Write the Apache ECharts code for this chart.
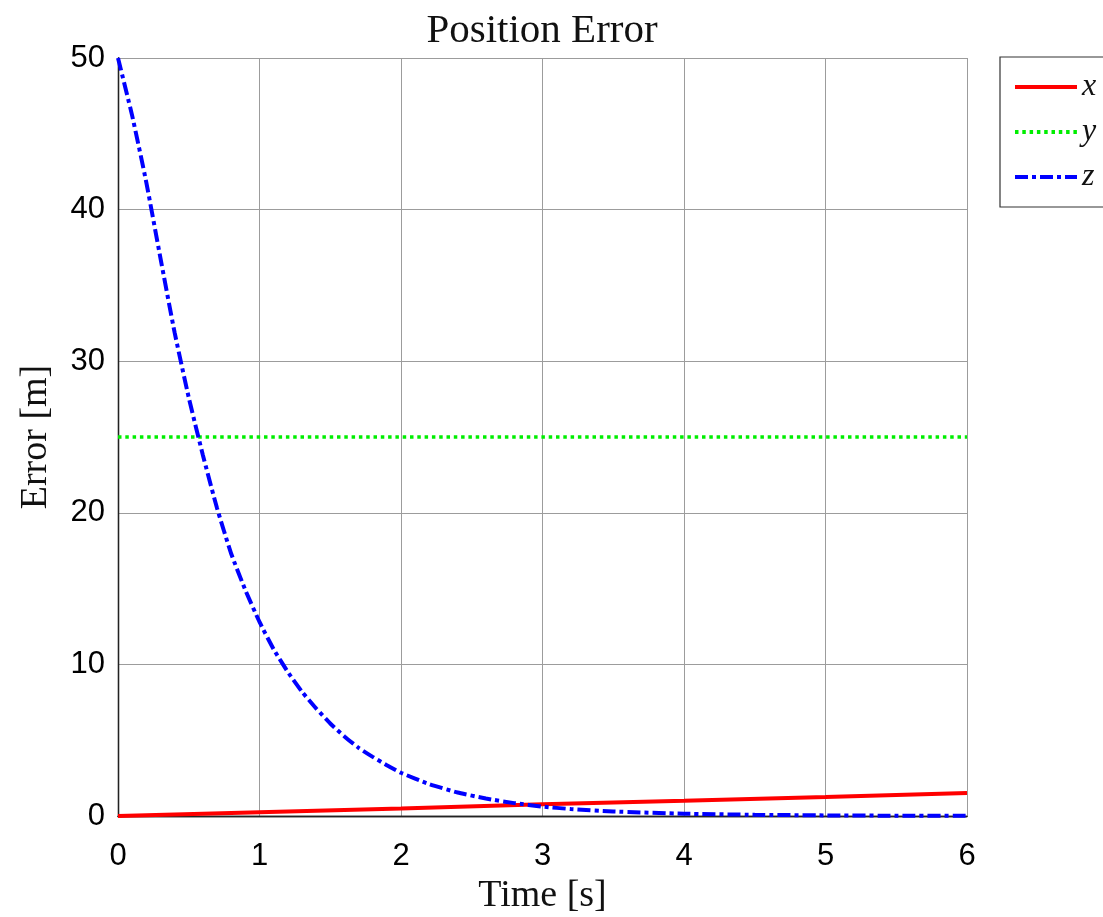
<!DOCTYPE html>
<html>
<head>
<meta charset="utf-8">
<title>Position Error</title>
<script src="https://cdn.jsdelivr.net/npm/echarts@6/dist/echarts.min.js"></script>
<style>
  html, body { margin: 0; padding: 0; background: #fff; }
  #chart { width: 1103px; height: 917px; }
</style>
</head>
<body>
<div id="chart"></div>
<script>
// Time samples [s] and error components [m]
const timeX = [0, 1, 2, 3, 4, 5, 6];
const errX = [0, 0.25, 0.5, 0.77, 1.0, 1.25, 1.52];

const timeY = [0, 6];
const errY = [25, 25];

const timeZ = [0, 0.1, 0.2, 0.3, 0.4, 0.5, 0.6, 0.7, 0.8, 0.9, 1.0, 1.1, 1.2, 1.3, 1.4, 1.5,
  1.6, 1.7, 1.8, 1.9, 2.0, 2.2, 2.4, 2.6, 2.8, 3.0, 3.2, 3.5, 4.0, 4.5, 5.0, 5.5, 6.0];
const errZ = [50, 46.2, 41.8, 36.8, 31.9, 27.6, 23.8, 20.3, 17.3, 14.9, 12.8, 11.0, 9.5, 8.2, 7.1, 6.1,
  5.25, 4.5, 3.9, 3.35, 2.85, 2.1, 1.55, 1.15, 0.85, 0.62, 0.46, 0.3, 0.15, 0.08, 0.04, 0.02, 0.01];

const xTicks = [0, 1, 2, 3, 4, 5, 6];
const yTicks = [0, 10, 20, 30, 40, 50];

const seriesNames = ['x', 'y', 'z'];

const pair = (ts, vs) => ts.map((t, i) => [t, vs[i]]);

const sans = 'Liberation Sans, Arial, sans-serif';
const serif = 'Liberation Serif, Times New Roman, serif';

const chart = echarts.init(document.getElementById('chart'), null, { renderer: 'canvas' });

const gridLine = { show: true, lineStyle: { color: '#9c9c9c', width: 1 } };
const boxLine = { show: true, lineStyle: { color: '#222', width: 1.3 } };

chart.setOption({
  backgroundColor: '#fff',
  animation: false,
  title: {
    text: 'Position Error',
    left: 537,
    top: 6,
    textAlign: 'center',
    textStyle: { fontFamily: serif, fontSize: 41, fontWeight: 'normal', color: '#111' }
  },
  legend: {
    orient: 'vertical',
    left: 1000,
    top: 57,
    padding: [14, 60, 14, 13],
    itemWidth: 62,
    itemHeight: 20,
    itemGap: 13,
    borderColor: '#333',
    borderWidth: 1.2,
    backgroundColor: '#fff',
    data: seriesNames,
    itemStyle: { opacity: 0 },
    lineStyle: { width: 4, type: 'inherit' },
    textStyle: { fontFamily: serif, fontStyle: 'italic', fontSize: 32, color: '#111', padding: [0, 0, 4, 0] }
  },
  grid: { left: 118, top: 58, width: 849, height: 758, containLabel: false, outerBoundsMode: 'none' },
  xAxis: [{
    type: 'value', min: 0, max: 6, interval: 1,
    name: 'Time [s]', nameLocation: 'middle', nameGap: 54,
    nameTextStyle: { fontFamily: serif, fontSize: 38, color: '#111' },
    axisLine: boxLine, axisTick: { show: false }, splitLine: gridLine,
    axisLabel: {
      margin: 25, fontFamily: sans, fontSize: 31, color: '#000',
      formatter: v => (xTicks.includes(v) ? String(v) : '')
    }
  }, {
    type: 'value', min: 0, max: 6, interval: 1, position: 'top',
    axisLine: boxLine, axisTick: { show: false }, axisLabel: { show: false }, splitLine: { show: false }
  }],
  yAxis: [{
    type: 'value', min: 0, max: 50, interval: 10,
    name: 'Error [m]', nameLocation: 'middle', nameGap: 63, nameRotate: 90,
    nameTextStyle: { fontFamily: serif, fontSize: 38, color: '#111' },
    axisLine: boxLine, axisTick: { show: false }, splitLine: gridLine,
    axisLabel: {
      margin: 13, fontFamily: sans, fontSize: 31, color: '#000', padding: [5, 0, 0, 0],
      formatter: v => (yTicks.includes(v) ? String(v) : '')
    }
  }, {
    type: 'value', min: 0, max: 50, interval: 10, position: 'right',
    axisLine: boxLine, axisTick: { show: false }, axisLabel: { show: false }, splitLine: { show: false }
  }],
  series: [{
    name: seriesNames[0], type: 'line', symbol: 'none', z: 3,
    data: pair(timeX, errX),
    lineStyle: { color: '#ff0000', width: 4, type: 'solid' },
    itemStyle: { color: '#ff0000' }
  }, {
    name: seriesNames[1], type: 'line', symbol: 'none', z: 3,
    data: pair(timeY, errY),
    lineStyle: { color: '#00ee00', width: 3.5, type: [3.5, 3.8], cap: 'butt' },
    itemStyle: { color: '#00ee00' }
  }, {
    name: seriesNames[2], type: 'line', symbol: 'none', smooth: 0.15, z: 4,
    data: pair(timeZ, errZ),
    lineStyle: { color: '#0000ff', width: 4, type: [13, 4, 4, 4], cap: 'butt' },
    itemStyle: { color: '#0000ff' }
  }]
});
</script>
</body>
</html>
